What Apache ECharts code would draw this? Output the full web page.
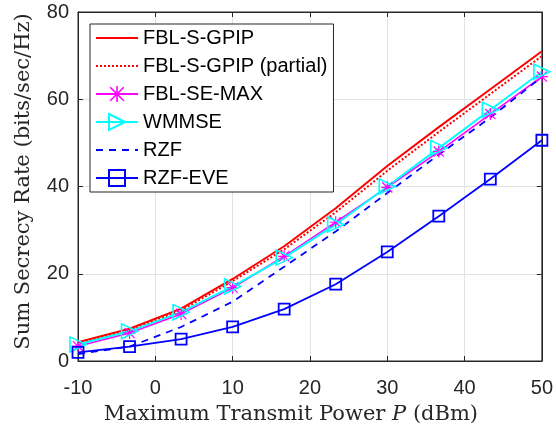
<!DOCTYPE html>
<html>
<head>
<meta charset="utf-8">
<script src="https://cdn.jsdelivr.net/npm/echarts@6/dist/echarts.min.js"></script>
<style>
html,body{margin:0;padding:0;background:#fff;}
#chart{width:556px;height:430px;}
</style>
</head>
<body>
<div id="chart"></div>
<script>
var xValues = [-10, -3.333, 3.333, 10, 16.667, 23.333, 30, 36.667, 43.333, 50];
var fblSGpip = [4.3, 7.4, 12.0, 18.8, 26.3, 35.0, 44.7, 53.6, 62.3, 71.0];
var fblSGpipPartial = [4.1, 7.1, 11.6, 18.3, 25.6, 34.1, 43.6, 52.5, 61.2, 69.9];
var fblSeMax = [3.4, 6.4, 10.8, 16.8, 24.0, 31.8, 39.8, 48.0, 56.6, 65.2];
var wmmse = [3.8, 6.8, 11.2, 17.1, 23.7, 31.3, 40.0, 48.8, 57.6, 66.3];
var rzf = [1.6, 3.3, 7.8, 13.6, 21.6, 29.7, 38.5, 47.3, 55.8, 65.1];
var rzfEve = [2.0, 3.3, 5.0, 7.8, 11.9, 17.6, 25.0, 33.2, 41.7, 50.6];
var seriesNames = ['FBL-S-GPIP', 'FBL-S-GPIP (partial)', 'FBL-SE-MAX', 'WMMSE', 'RZF', 'RZF-EVE'];
var xTicks = {min: -10, max: 50, interval: 10};
var yTicks = {min: 0, max: 80, interval: 20};

function pairs(ys) { return xValues.map(function (x, i) { return [x, ys[i]]; }); }

var asterisk = 'path://M45 0L55 0L55 100L45 100Z M0 45L100 45L100 55L0 55Z M11 4L96 89L89 96L4 11Z M89 4L96 11L11 96L4 89Z';
var triRight = 'path://M0 0L100 50L0 100Z';
var square = 'path://M0 0L100 0L100 100L0 100Z';

var axisColor = '#262626';
var labelFont = 'Liberation Sans, Arial, Helvetica, sans-serif';
var nameFont = 'DejaVu Serif, serif';
var noMarker = {opacity: 0};

var chart = echarts.init(document.getElementById('chart'), null, {renderer: 'canvas'});
chart.setOption({
  animation: false,
  backgroundColor: '#fff',
  grid: {left: 78, right: 11, top: 12, bottom: 69, show: true, borderColor: axisColor, borderWidth: 1, backgroundColor: 'transparent'},
  legend: {
    data: [
      {name: seriesNames[0], itemStyle: noMarker},
      {name: seriesNames[1], itemStyle: noMarker},
      {name: seriesNames[2]},
      {name: seriesNames[3]},
      {name: seriesNames[4], itemStyle: noMarker},
      {name: seriesNames[5]}
    ],
    orient: 'vertical',
    left: 90, top: 24,
    backgroundColor: '#fff',
    borderColor: axisColor, borderWidth: 1,
    padding: [4, 6, 4, 5],
    itemWidth: 42, itemHeight: 20, itemGap: 8,
    textStyle: {fontSize: 20, color: '#000', fontFamily: labelFont}
  },
  xAxis: [{
    type: 'value', min: xTicks.min, max: xTicks.max, interval: xTicks.interval,
    name: 'Maximum Transmit Power {i|P} (dBm)',
    nameLocation: 'middle', nameGap: 43,
    nameTextStyle: {fontSize: 21, color: axisColor, fontFamily: nameFont, padding: [0, 38, 0, 0],
      rich: {i: {fontSize: 21, fontStyle: 'italic', color: axisColor, fontFamily: nameFont}}},
    axisLine: {show: true, onZero: false, lineStyle: {color: axisColor, width: 1}},
    axisTick: {show: true, inside: true, length: 5, lineStyle: {color: axisColor}},
    axisLabel: {fontSize: 20, color: axisColor, fontFamily: labelFont, margin: 17},
    splitLine: {show: true, lineStyle: {color: '#e3e3e3', width: 1}}
  }, {
    type: 'value', position: 'top', min: xTicks.min, max: xTicks.max, interval: xTicks.interval,
    axisLine: {show: true, onZero: false, lineStyle: {color: axisColor, width: 1}},
    axisTick: {show: true, inside: true, length: 5, lineStyle: {color: axisColor}},
    axisLabel: {show: false}, splitLine: {show: false}
  }],
  yAxis: [{
    type: 'value', min: yTicks.min, max: yTicks.max, interval: yTicks.interval,
    name: 'Sum Secrecy Rate (bits/sec/Hz)',
    nameLocation: 'middle', nameGap: 44, nameRotate: 90,
    nameTextStyle: {fontSize: 21, color: axisColor, fontFamily: nameFont, padding: [0, 0, 0, 10]},
    axisLine: {show: true, onZero: false, lineStyle: {color: axisColor, width: 1}},
    axisTick: {show: true, inside: true, length: 5, lineStyle: {color: axisColor}},
    axisLabel: {fontSize: 20, color: axisColor, fontFamily: labelFont, margin: 9},
    splitLine: {show: true, lineStyle: {color: '#e3e3e3', width: 1}}
  }, {
    type: 'value', position: 'right', min: yTicks.min, max: yTicks.max, interval: yTicks.interval,
    axisLine: {show: true, onZero: false, lineStyle: {color: axisColor, width: 1}},
    axisTick: {show: true, inside: true, length: 5, lineStyle: {color: axisColor}},
    axisLabel: {show: false}, splitLine: {show: false}
  }],
  series: [
    {name: seriesNames[0], type: 'line', data: pairs(fblSGpip), clip: false, symbol: 'none',
      color: '#ff0000', lineStyle: {color: '#ff0000', width: 2}},
    {name: seriesNames[1], type: 'line', data: pairs(fblSGpipPartial), clip: false, symbol: 'none',
      color: '#ff0000', lineStyle: {color: '#ff0000', width: 2, type: [2, 2]}},
    {name: seriesNames[2], type: 'line', data: pairs(fblSeMax), clip: false, symbol: asterisk, symbolSize: 12,
      color: '#ff00ff', itemStyle: {color: '#ff00ff'}, lineStyle: {color: '#ff00ff', width: 1.6}},
    {name: seriesNames[3], type: 'line', data: pairs(wmmse), clip: false, symbol: triRight, symbolSize: [16, 15],
      color: '#00ffff', itemStyle: {color: 'rgba(0,0,0,0)', borderColor: '#00ffff', borderWidth: 1.6},
      lineStyle: {color: '#00ffff', width: 2}},
    {name: seriesNames[4], type: 'line', data: pairs(rzf), clip: false, symbol: 'none',
      color: '#0000ff', lineStyle: {color: '#0000ff', width: 1.8, type: [7, 6]}},
    {name: seriesNames[5], type: 'line', data: pairs(rzfEve), clip: false, symbol: square, symbolSize: 11,
      color: '#0000ff', itemStyle: {color: 'rgba(0,0,0,0)', borderColor: '#0000ff', borderWidth: 1.8},
      lineStyle: {color: '#0000ff', width: 1.8}}
  ]
});
</script>
</body>
</html>
